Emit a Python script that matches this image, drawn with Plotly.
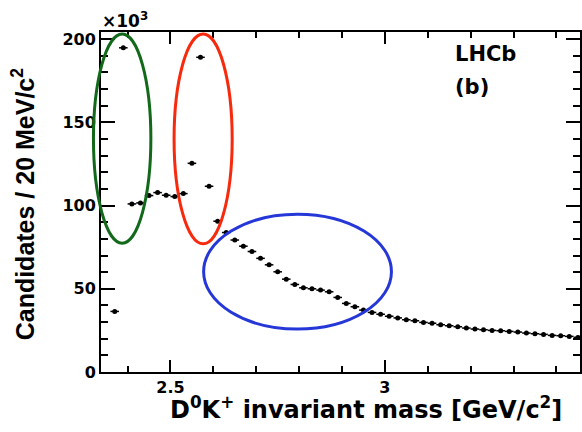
import plotly.graph_objects as go

# D0 K+ invariant-mass spectrum, 20 MeV/c^2 bins (counts in units of 10^3)
mass = [round(2.37 + 0.02 * i, 2) for i in range(55)]
candidates = [
    36.4, 194.8, 101.0, 101.6, 106.0, 107.8, 106.2, 105.4, 107.2, 125.4,
    189.1, 111.6, 90.6, 83.8, 79.3, 75.6, 72.4, 68.3, 64.4, 60.2,
    55.8, 52.6, 50.6, 50.0, 49.2, 48.2, 44.8, 41.2, 39.2, 37.2,
    35.8, 34.7, 33.5, 32.5, 31.4, 30.8, 29.8, 29.3, 28.4, 27.8,
    27.2, 26.4, 25.8, 25.4, 25.0, 24.8, 24.4, 24.0, 23.4, 23.0,
    22.6, 22.0, 21.8, 21.4, 20.8,
]
bin_half_width = 0.01

# highlighted regions: (x_min, x_max, y_min, y_max, colour)
regions = [
    (2.3204, 2.4543, 77.4, 203.1, "#12691a"),
    (2.5084, 2.6439, 77.0, 203.1, "#f82a0e"),
    (2.5773, 3.0153, 25.8, 94.8, "#2637d8"),
]

W, H = 582, 432
L, R, T, B = 101, 0, 32, 60
x_range = [2.338, 3.455]
y_range = [0, 204.3]

HFONT = "DejaVu Sans"
VFONT = "Liberation Sans"


def px_x(px):
    return (px - L) / (W - L - R)


def px_y(py):
    return (H - B - py) / (H - B - T)


def data_x(x):
    return (x - x_range[0]) / (x_range[1] - x_range[0])


def data_y(y):
    return (y - y_range[0]) / (y_range[1] - y_range[0])


fig = go.Figure()
fig.add_trace(go.Scatter(
    x=mass, y=candidates, mode="markers",
    marker=dict(color="black", size=5),
    error_x=dict(type="constant", value=bin_half_width, thickness=1.5,
                 width=0, color="black"),
    showlegend=False,
))

shapes = []
for x0, x1, y0, y1, col in regions:
    shapes.append(dict(
        type="circle", xref="paper", yref="paper",
        x0=data_x(x0), x1=data_x(x1), y0=data_y(y0), y1=data_y(y1),
        line=dict(color=col, width=3),
    ))

axis_common = dict(
    showline=True, linecolor="black", linewidth=2,
    mirror="ticks", ticks="inside", tickcolor="black", tickwidth=2,
    showgrid=False, zeroline=False,
    tickfont=dict(family=HFONT, size=16, color="black", weight="bold"),
)

fig.update_layout(
    width=W, height=H,
    margin=dict(l=L, r=R, t=T, b=B),
    paper_bgcolor="white", plot_bgcolor="white",
    xaxis=dict(
        range=x_range, tick0=2.5, dtick=0.5, ticklen=12,
        minor=dict(dtick=0.1, ticks="inside", ticklen=6, tickwidth=1.5,
                   tickcolor="black", showgrid=False),
        **axis_common,
    ),
    yaxis=dict(
        range=y_range, tick0=0, dtick=50, ticklen=14,
        minor=dict(dtick=10, ticks="inside", ticklen=7, tickwidth=1.5,
                   tickcolor="black", showgrid=False),
        **axis_common,
    ),
    shapes=shapes,
    annotations=[
        dict(xref="paper", yref="paper", x=px_x(367), y=px_y(408),
             text="<b>D<sup>0</sup>K<sup>+</sup> invariant mass [GeV/c<sup>2</sup>]</b>",
             showarrow=False, xanchor="center", yanchor="middle",
             font=dict(family=HFONT, size=24, color="black")),
        dict(xref="paper", yref="paper", x=px_x(23), y=px_y(204),
             text="<b>Candidates / 20 MeV/c<sup>2</sup></b>", textangle=-90,
             showarrow=False, xanchor="center", yanchor="middle",
             font=dict(family=VFONT, size=25, color="black")),
        dict(xref="paper", yref="paper", x=px_x(100), y=px_y(20),
             text="<b>×10<sup>3</sup></b>",
             showarrow=False, xanchor="left", yanchor="middle",
             font=dict(family=HFONT, size=17, color="black")),
        dict(xref="paper", yref="paper", x=px_x(454), y=px_y(54),
             text="<b>LHCb</b>",
             showarrow=False, xanchor="left", yanchor="middle",
             font=dict(family=HFONT, size=21, color="black")),
        dict(xref="paper", yref="paper", x=px_x(454), y=px_y(87),
             text="<b>(b)</b>",
             showarrow=False, xanchor="left", yanchor="middle",
             font=dict(family=HFONT, size=21, color="black")),
    ],
)

fig.write_html("out.html")
